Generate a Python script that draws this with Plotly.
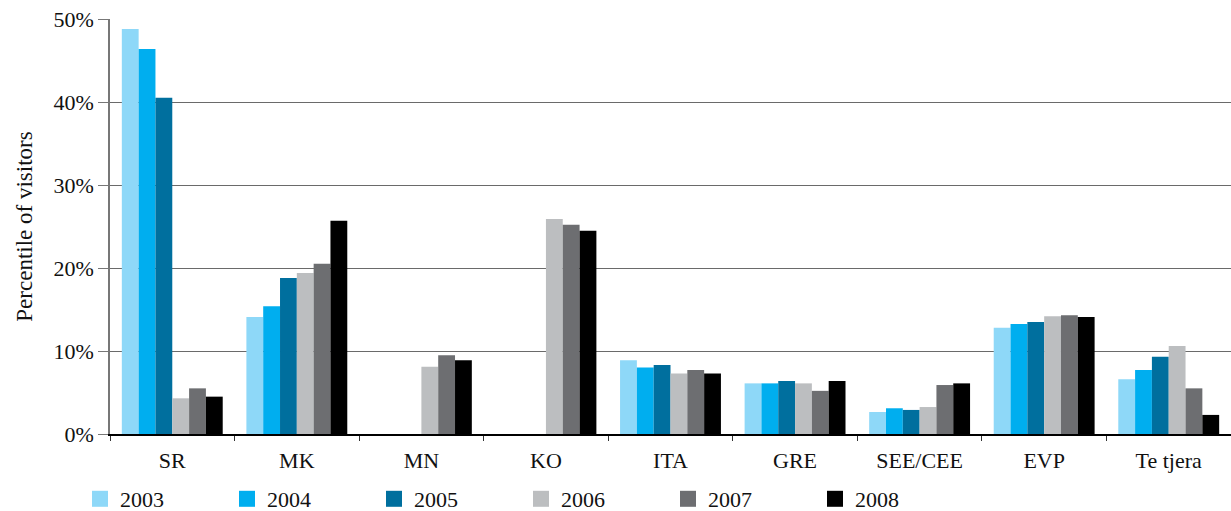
import plotly.graph_objects as go

# Visitor origin by region, share of visitors per year (%)
categories = ["SR", "MK", "MN", "KO", "ITA", "GRE", "SEE/CEE", "EVP", "Te tjera"]
years = ["2003", "2004", "2005", "2006", "2007", "2008"]

v2003 = [48.8, 14.1, None, None, 8.9, 6.1, 2.65, 12.8, 6.6]
v2004 = [46.4, 15.4, None, None, 8.0, 6.1, 3.1, 13.25, 7.7]
v2005 = [40.5, 18.8, None, None, 8.3, 6.4, 2.9, 13.5, 9.3]
v2006 = [4.3, 19.4, 8.1, 25.9, 7.3, 6.1, 3.25, 14.2, 10.6]
v2007 = [5.5, 20.5, 9.5, 25.2, 7.7, 5.2, 5.9, 14.3, 5.5]
v2008 = [4.5, 25.7, 8.9, 24.5, 7.3, 6.4, 6.1, 14.1, 2.3]

series = [v2003, v2004, v2005, v2006, v2007, v2008]
colors = ["#8ed8f8", "#00aeef", "#006f9e", "#bcbec0", "#6d6e71", "#000000"]

FONT = "Liberation Serif, Times New Roman, serif"
TEXT = "#111111"

fig = go.Figure()
for year, vals, col in zip(years, series, colors):
    fig.add_trace(go.Bar(
        x=categories, y=vals, name=year,
        marker=dict(color=col, line=dict(width=0)),
        legendgroup=year, showlegend=False,
    ))
    # legend swatch: a large square key for each year
    fig.add_trace(go.Scatter(
        x=[None], y=[None], mode="markers", name=year,
        marker=dict(symbol="square", size=18, color=col, line=dict(width=0)),
        legendgroup=year, showlegend=True, hoverinfo="skip",
    ))

fig.update_layout(
    width=1231, height=511,
    margin=dict(l=110, r=0, t=19, b=77),
    plot_bgcolor="white", paper_bgcolor="white",
    barmode="group", bargap=0.19, bargroupgap=0,
    font=dict(family=FONT, size=21, color=TEXT),
    showlegend=True,
    legend=dict(
        orientation="h", xref="container", yref="container",
        x=80 / 1231, xanchor="left", y=(511 - 499) / 511, yanchor="middle",
        font=dict(family=FONT, size=22, color=TEXT),
        entrywidth=102, entrywidthmode="pixels",
        bgcolor="rgba(0,0,0,0)", traceorder="normal", itemsizing="trace",
    ),
    xaxis=dict(
        showline=True, linecolor="#000", linewidth=1.5,
        ticks="outside", tickson="boundaries", ticklen=5, tickcolor="#333",
        ticklabelstandoff=6,
        tickfont=dict(family=FONT, size=22, color=TEXT),
        showgrid=False,
    ),
    yaxis=dict(
        range=[0, 50], tickvals=[0, 10, 20, 30, 40, 50],
        ticktext=["0%", "10%", "20%", "30%", "40%", "50%"],
        showline=True, linecolor="#777", linewidth=1.5,
        ticks="outside", ticklen=10, tickcolor="#777",
        showgrid=True, gridcolor="#6a6a6a", gridwidth=1.3,
        tickfont=dict(family=FONT, size=22, color=TEXT),
        title=dict(text="Percentile of visitors", standoff=14,
                   font=dict(family=FONT, size=23, color=TEXT)),
        zeroline=False,
    ),
)

fig.write_html("out.html")
